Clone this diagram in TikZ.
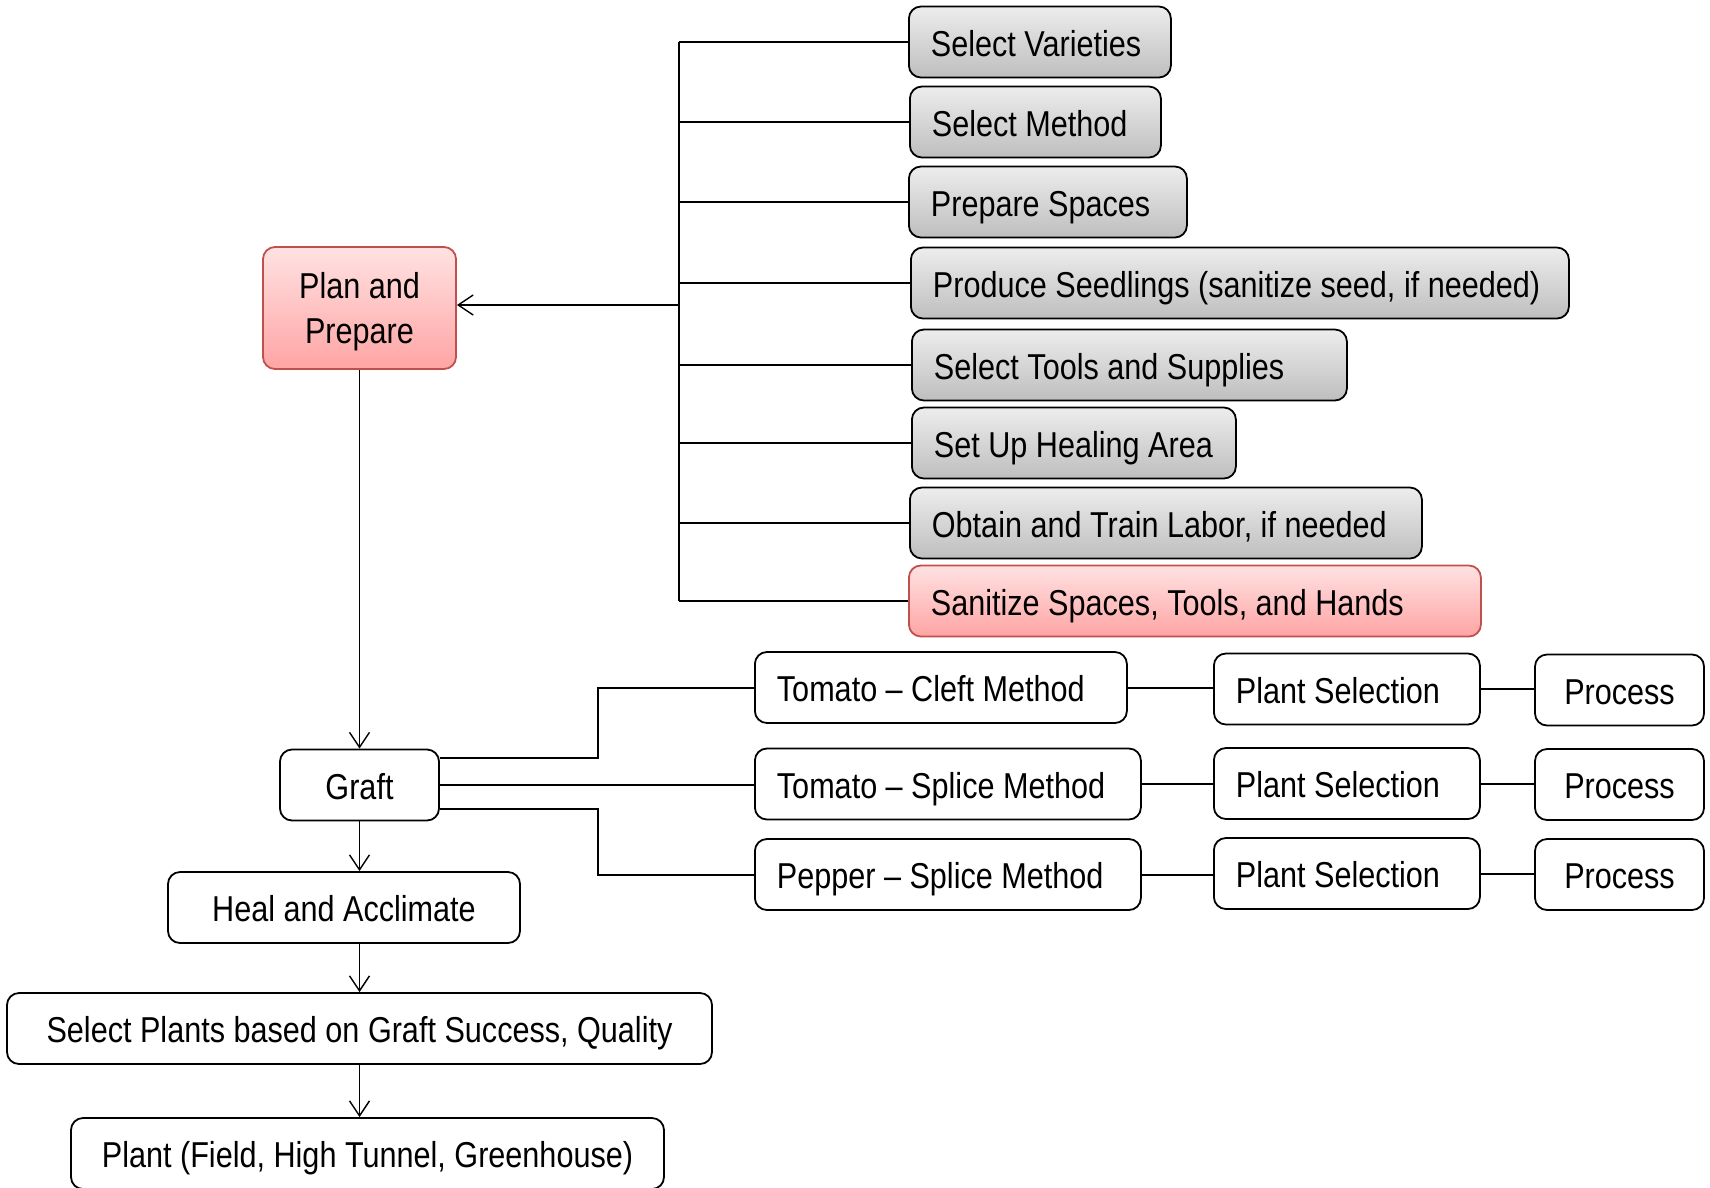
\documentclass[tikz,border=0pt]{standalone}
\usepackage{fontspec}
\setmainfont{Liberation Sans}[FakeStretch=0.85]
\usetikzlibrary{arrows.meta,calc,positioning}
\definecolor{redtop}{RGB}{255,226,226}
\definecolor{redbot}{RGB}{255,164,164}
\definecolor{redline}{RGB}{192,80,77}
\definecolor{graytop}{RGB}{237,237,237}
\definecolor{graybot}{RGB}{190,190,190}
\tikzset{
box/.style={draw=black, line width=1.8pt, rounded corners=12pt, minimum height=71pt, inner xsep=22pt, font=\fontsize{36}{45}\selectfont}, % every box
oneline/.style={text height=34pt, text depth=5.4pt}, % same baseline in every box
graybox/.style={box, oneline, top color=graytop, bottom color=graybot, anchor=west, text width=#1, align=flush left},
redbox/.style={box, draw=redline, top color=redtop, bottom color=redbot},
whitebox/.style={box, oneline, fill=white},
stepbox/.style={whitebox, anchor=west, text width=#1, align=flush left},
link/.style={line width=2pt},
arrow/.style={line width=1.4pt, -{Straight Barb[length=15pt,width=20pt]}},
}

\begin{document}
\begin{tikzpicture}[x=1pt,y=-1pt]
    \useasboundingbox (0,0) rectangle (1710,1187);
    % plan and prepare
    \node[redbox, minimum width=193pt, minimum height=122pt, align=center, text depth=-3pt] (plan) at (359.5,308) {Plan and\\Prepare};
    \coordinate (bus) at (679,305);
    \node[graybox=218pt] (varieties) at (908,42)  {Select Varieties};
    \node[graybox=207pt] (method)    at (909,122) {Select Method};
    \node[graybox=234pt] (spaces)    at (908,202) {Prepare Spaces};
    \node[graybox=614pt] (seedlings) at (910,283) {Produce Seedlings (sanitize seed, if needed)};
    \node[graybox=391pt] (tools)     at (911,365) {Select Tools and Supplies};
    \node[graybox=280pt] (healing)   at (911,443) {Set Up Healing Area};
    \node[graybox=468pt] (labor)     at (909,523) {Obtain and Train Labor, if needed};
    \node[redbox, oneline, anchor=west, text width=528pt, align=flush left] (sanitize) at (908,601) {Sanitize Spaces, Tools, and Hands};
    % graft
    \node[whitebox, minimum width=159pt] (graft) at (359.5,785) {Graft};
    \coordinate (elbow) at (598,785);
    \node[stepbox=328pt] (cleft)   at (754,687.5) {Tomato -- Cleft Method};
    \node[stepbox=342pt] (tsplice) at (754,784)   {Tomato -- Splice Method};
    \node[stepbox=342pt] (psplice) at (754,874.5) {Pepper -- Splice Method};
    \foreach \i/\y in {1/689,2/783.5,3/873.5} {
        \node[stepbox=222pt] (sel\i) at (1213,\y) {Plant Selection};
        \node[whitebox, minimum width=169pt] (proc\i) at (1619.5,\y+1) {Process};
    }
    % after grafting
    \node[whitebox, minimum width=352pt] (heal)  at (344,907.5)   {Heal and Acclimate};
    \node[whitebox, minimum width=705pt] (pick)  at (359.5,1028.5) {Select Plants based on Graft Success, Quality};
    \node[whitebox, minimum width=593pt] (field) at (367.5,1153.5) {Plant (Field, High Tunnel, Greenhouse)};

    \draw[link] (bus |- varieties.west) -- (bus |- sanitize.west);
    \foreach \n in {varieties,method,spaces,seedlings,tools,healing,labor,sanitize}
        \draw[link] (bus |- \n.west) -- (\n.west);
    \draw[arrow] (bus) -- (bus -| plan.east);

    \draw[link] ([yshift=27pt]graft.east) -| (elbow |- cleft.west) -- (cleft.west);
    \draw[link] (graft.east) -- (graft.east -| tsplice.west);
    \draw[link] ([yshift=-24pt]graft.east) -| (elbow |- psplice.west) -- (psplice.west);
    \draw[link] (cleft.east) -- (cleft.east -| sel1.west);
    \draw[link] (tsplice.east) -- (tsplice.east -| sel2.west);
    \draw[link] (psplice.east) -- (psplice.east -| sel3.west);
    \foreach \i in {1,2,3}
        \draw[link] (sel\i.east) -- (sel\i.east -| proc\i.west);

    \draw[arrow] (plan.south) -- (graft.north);
    \draw[arrow] (graft.south) -- (graft.south |- heal.north);
    \draw[arrow] (pick.north |- heal.south) -- (pick.north);
    \draw[arrow] (pick.south) -- (pick.south |- field.north);
\end{tikzpicture}
\end{document}
